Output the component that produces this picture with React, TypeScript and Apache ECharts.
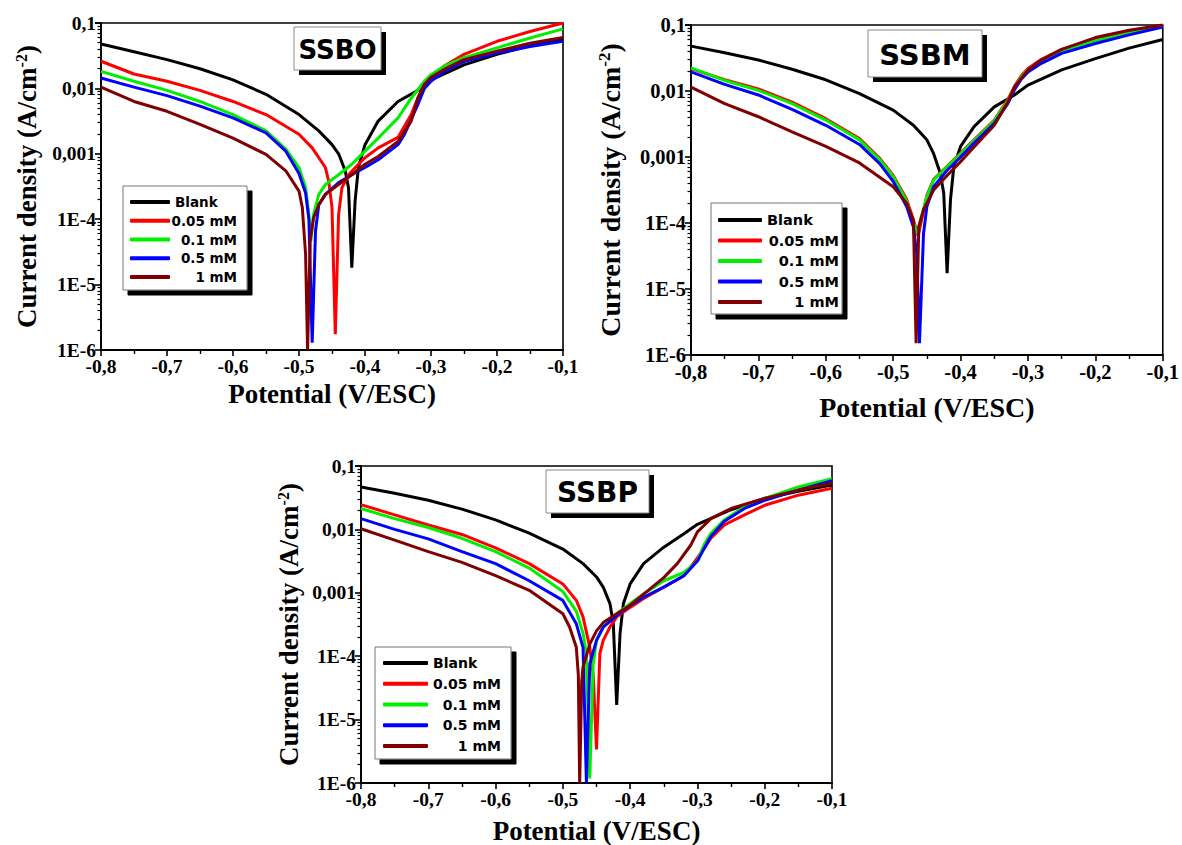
import React, { useEffect, useRef } from "react";
import * as echarts from "echarts";

type Pt = [number, number]; // [potential (V/ESC), log10 of current density (A/cm^-2)]

const seriesNames = ["Blank", "0.05 mM", "0.1 mM", "0.5 mM", "1 mM"];
const seriesColors = ["#000000", "#ff0000", "#00ee00", "#0000ff", "#800000"];
const panelTitles = ["SSBO", "SSBM", "SSBP"];

const xMin = -0.8;
const xMax = -0.1;
const xStep = 0.1;
const yMin = 1e-6;
const yMax = 0.1;
const yTickExponents = [-6, -5, -4, -3, -2, -1];
const yTickLabels = ["1E-6", "1E-5", "1E-4", "0,001", "0,01", "0,1"];

// ---------- SSBO ----------
const ssboBlank: Pt[] = [[-0.8,-1.32],[-0.75,-1.44],[-0.7,-1.56],[-0.65,-1.7],[-0.6,-1.87],[-0.55,-2.09],[-0.5,-2.4],[-0.47,-2.65],[-0.45,-2.86],[-0.44,-3.0],[-0.43,-3.26],[-0.425,-3.52],[-0.42,-4.74],[-0.415,-3.72],[-0.41,-3.21],[-0.4,-2.86],[-0.38,-2.5],[-0.35,-2.2],[-0.32,-2.03],[-0.3,-1.87],[-0.25,-1.64],[-0.2,-1.48],[-0.15,-1.35],[-0.1,-1.25]];
const ssbo005: Pt[] = [[-0.8,-1.585],[-0.75,-1.78],[-0.7,-1.89],[-0.65,-2.03],[-0.6,-2.2],[-0.55,-2.4],[-0.5,-2.7],[-0.48,-2.91],[-0.46,-3.21],[-0.455,-3.42],[-0.45,-3.82],[-0.445,-5.76],[-0.44,-3.93],[-0.435,-3.52],[-0.425,-3.32],[-0.41,-3.16],[-0.4,-3.06],[-0.38,-2.91],[-0.35,-2.75],[-0.33,-2.4],[-0.32,-2.15],[-0.31,-1.94],[-0.3,-1.81],[-0.28,-1.66],[-0.25,-1.48],[-0.2,-1.28],[-0.15,-1.13],[-0.1,-1.0]];
const ssbo01: Pt[] = [[-0.8,-1.74],[-0.75,-1.89],[-0.7,-2.03],[-0.65,-2.2],[-0.6,-2.4],[-0.55,-2.65],[-0.52,-2.93],[-0.5,-3.21],[-0.49,-3.52],[-0.485,-3.93],[-0.482,-4.33],[-0.478,-3.93],[-0.47,-3.62],[-0.46,-3.47],[-0.44,-3.32],[-0.42,-3.16],[-0.4,-2.96],[-0.38,-2.76],[-0.35,-2.45],[-0.33,-2.15],[-0.31,-1.89],[-0.3,-1.79],[-0.28,-1.66],[-0.25,-1.53],[-0.2,-1.38],[-0.15,-1.23],[-0.1,-1.09]];
const ssbo05: Pt[] = [[-0.8,-1.84],[-0.75,-1.98],[-0.7,-2.11],[-0.65,-2.27],[-0.6,-2.45],[-0.55,-2.68],[-0.52,-2.96],[-0.5,-3.3],[-0.49,-3.6],[-0.485,-4.0],[-0.48,-5.89],[-0.475,-4.18],[-0.47,-3.78],[-0.46,-3.62],[-0.44,-3.44],[-0.42,-3.32],[-0.4,-3.21],[-0.38,-3.09],[-0.35,-2.86],[-0.34,-2.7],[-0.32,-2.25],[-0.31,-2.0],[-0.3,-1.89],[-0.28,-1.74],[-0.25,-1.59],[-0.2,-1.46],[-0.15,-1.36],[-0.1,-1.28]];
const ssbo1: Pt[] = [[-0.8,-1.98],[-0.75,-2.2],[-0.7,-2.35],[-0.65,-2.55],[-0.6,-2.76],[-0.55,-3.01],[-0.52,-3.26],[-0.5,-3.57],[-0.495,-3.82],[-0.49,-4.54],[-0.487,-6.0],[-0.483,-4.33],[-0.478,-3.98],[-0.47,-3.78],[-0.46,-3.62],[-0.44,-3.47],[-0.42,-3.32],[-0.4,-3.16],[-0.38,-3.04],[-0.35,-2.81],[-0.33,-2.5],[-0.32,-2.15],[-0.31,-1.94],[-0.3,-1.83],[-0.28,-1.71],[-0.25,-1.56],[-0.2,-1.43],[-0.15,-1.31],[-0.1,-1.22]];

// ---------- SSBM ----------
const ssbmBlank: Pt[] = [[-0.8,-1.32],[-0.75,-1.42],[-0.7,-1.53],[-0.65,-1.67],[-0.6,-1.83],[-0.55,-2.04],[-0.5,-2.29],[-0.47,-2.52],[-0.45,-2.74],[-0.44,-2.95],[-0.43,-3.25],[-0.425,-3.55],[-0.42,-4.76],[-0.415,-3.65],[-0.41,-3.14],[-0.4,-2.84],[-0.38,-2.54],[-0.35,-2.24],[-0.32,-2.06],[-0.3,-1.91],[-0.25,-1.68],[-0.2,-1.51],[-0.15,-1.35],[-0.1,-1.22]];
const ssbm005: Pt[] = [[-0.8,-1.66],[-0.75,-1.83],[-0.7,-1.97],[-0.65,-2.17],[-0.6,-2.42],[-0.55,-2.72],[-0.52,-3.02],[-0.5,-3.28],[-0.48,-3.64],[-0.47,-3.95],[-0.463,-4.2],[-0.458,-3.96],[-0.45,-3.58],[-0.44,-3.34],[-0.42,-3.14],[-0.4,-2.94],[-0.38,-2.74],[-0.35,-2.44],[-0.33,-2.13],[-0.32,-1.93],[-0.31,-1.77],[-0.3,-1.66],[-0.28,-1.52],[-0.25,-1.37],[-0.2,-1.22],[-0.15,-1.11],[-0.1,-1.0]];
const ssbm01: Pt[] = [[-0.8,-1.65],[-0.75,-1.84],[-0.7,-1.99],[-0.65,-2.19],[-0.6,-2.44],[-0.55,-2.74],[-0.52,-3.04],[-0.5,-3.3],[-0.48,-3.67],[-0.47,-3.98],[-0.465,-4.16],[-0.46,-3.97],[-0.45,-3.6],[-0.44,-3.35],[-0.42,-3.15],[-0.4,-2.95],[-0.38,-2.75],[-0.35,-2.45],[-0.33,-2.15],[-0.32,-1.95],[-0.31,-1.79],[-0.3,-1.68],[-0.28,-1.54],[-0.25,-1.39],[-0.2,-1.24],[-0.15,-1.13],[-0.1,-1.02]];
const ssbm05: Pt[] = [[-0.8,-1.71],[-0.75,-1.9],[-0.7,-2.06],[-0.65,-2.28],[-0.6,-2.52],[-0.55,-2.81],[-0.52,-3.1],[-0.5,-3.37],[-0.48,-3.75],[-0.47,-4.06],[-0.465,-4.46],[-0.461,-5.82],[-0.455,-4.16],[-0.45,-3.75],[-0.44,-3.45],[-0.42,-3.2],[-0.4,-3.0],[-0.38,-2.79],[-0.35,-2.49],[-0.33,-2.19],[-0.32,-1.98],[-0.31,-1.82],[-0.3,-1.71],[-0.28,-1.58],[-0.25,-1.43],[-0.2,-1.28],[-0.15,-1.15],[-0.1,-1.03]];
const ssbm1: Pt[] = [[-0.8,-1.94],[-0.75,-2.19],[-0.7,-2.39],[-0.65,-2.62],[-0.6,-2.84],[-0.55,-3.09],[-0.5,-3.45],[-0.48,-3.7],[-0.47,-3.96],[-0.466,-5.82],[-0.462,-4.06],[-0.455,-3.8],[-0.44,-3.5],[-0.42,-3.28],[-0.4,-3.07],[-0.38,-2.85],[-0.35,-2.52],[-0.33,-2.17],[-0.32,-1.94],[-0.3,-1.68],[-0.28,-1.53],[-0.25,-1.37],[-0.2,-1.19],[-0.15,-1.08],[-0.1,-1.0]];

// ---------- SSBP ----------
const ssbpBlank: Pt[] = [[-0.8,-1.33],[-0.75,-1.43],[-0.7,-1.54],[-0.65,-1.68],[-0.6,-1.85],[-0.55,-2.06],[-0.5,-2.31],[-0.47,-2.54],[-0.45,-2.75],[-0.44,-2.91],[-0.43,-3.17],[-0.425,-3.49],[-0.42,-4.77],[-0.415,-3.64],[-0.41,-3.17],[-0.4,-2.86],[-0.38,-2.54],[-0.35,-2.28],[-0.32,-2.07],[-0.3,-1.92],[-0.25,-1.69],[-0.2,-1.51],[-0.15,-1.4],[-0.1,-1.3]];
const ssbp005: Pt[] = [[-0.8,-1.61],[-0.75,-1.77],[-0.7,-1.93],[-0.65,-2.08],[-0.6,-2.29],[-0.55,-2.54],[-0.5,-2.86],[-0.48,-3.12],[-0.47,-3.38],[-0.46,-3.86],[-0.455,-4.29],[-0.45,-5.47],[-0.445,-3.96],[-0.44,-3.75],[-0.43,-3.54],[-0.42,-3.38],[-0.4,-3.23],[-0.38,-3.09],[-0.35,-2.91],[-0.32,-2.73],[-0.3,-2.45],[-0.29,-2.3],[-0.28,-2.14],[-0.26,-1.93],[-0.23,-1.77],[-0.2,-1.62],[-0.15,-1.46],[-0.1,-1.35]];
const ssbp01: Pt[] = [[-0.8,-1.67],[-0.75,-1.83],[-0.7,-1.97],[-0.65,-2.14],[-0.6,-2.35],[-0.55,-2.61],[-0.5,-2.98],[-0.48,-3.29],[-0.47,-3.64],[-0.465,-3.96],[-0.46,-5.93],[-0.455,-4.13],[-0.45,-3.75],[-0.44,-3.54],[-0.42,-3.33],[-0.4,-3.17],[-0.38,-3.02],[-0.35,-2.81],[-0.32,-2.68],[-0.3,-2.5],[-0.29,-2.24],[-0.28,-2.06],[-0.26,-1.85],[-0.23,-1.64],[-0.2,-1.51],[-0.15,-1.33],[-0.1,-1.2]];
const ssbp05: Pt[] = [[-0.8,-1.83],[-0.75,-2.0],[-0.7,-2.15],[-0.65,-2.35],[-0.6,-2.54],[-0.55,-2.81],[-0.5,-3.12],[-0.48,-3.49],[-0.47,-3.86],[-0.465,-5.99],[-0.46,-4.12],[-0.45,-3.75],[-0.44,-3.54],[-0.42,-3.36],[-0.4,-3.2],[-0.38,-3.07],[-0.35,-2.91],[-0.32,-2.73],[-0.3,-2.5],[-0.29,-2.3],[-0.28,-2.11],[-0.26,-1.87],[-0.23,-1.67],[-0.2,-1.54],[-0.15,-1.38],[-0.1,-1.23]];
const ssbp1: Pt[] = [[-0.8,-1.99],[-0.75,-2.17],[-0.7,-2.35],[-0.65,-2.52],[-0.6,-2.73],[-0.55,-2.96],[-0.5,-3.33],[-0.49,-3.54],[-0.48,-3.86],[-0.477,-4.3],[-0.475,-6.0],[-0.472,-4.4],[-0.47,-4.17],[-0.46,-3.81],[-0.45,-3.6],[-0.44,-3.47],[-0.42,-3.33],[-0.4,-3.2],[-0.38,-3.02],[-0.35,-2.76],[-0.33,-2.54],[-0.31,-2.25],[-0.3,-2.04],[-0.28,-1.83],[-0.25,-1.67],[-0.2,-1.51],[-0.15,-1.38],[-0.1,-1.27]];

const panelData: Pt[][][] = [
  [ssboBlank, ssbo005, ssbo01, ssbo05, ssbo1],
  [ssbmBlank, ssbm005, ssbm01, ssbm05, ssbm1],
  [ssbpBlank, ssbp005, ssbp01, ssbp05, ssbp1],
];

// layout (pixels)
const layouts = [
  { grid: { left: 101, top: 23, width: 462, height: 327 }, legend: { left: 123, top: 186, font: 13.5, iw: 40, tw: 62, lh: 17, gap: 1.75, pad: [7.5, 10, 4.5, 7] },
    title: { x: 294, y: 27, w: 87, h: 43, font: 26 }, yGap: 60, xGap: 30, tick: 19.5, name: 27 },
  { grid: { left: 691, top: 25, width: 474, height: 330 }, legend: { left: 711, top: 203, font: 14.5, iw: 44, tw: 72, lh: 18, gap: 2.5, pad: [8, 3, 3, 7] },
    title: { x: 868, y: 30, w: 114, h: 47, font: 29 }, yGap: 66, xGap: 38, tick: 20.5, name: 28 },
  { grid: { left: 361, top: 466, width: 471, height: 320 }, legend: { left: 375, top: 647, font: 14, iw: 45, tw: 68, lh: 18, gap: 2.75, pad: [7, 10, 4, 8] },
    title: { x: 546, y: 470, w: 103, h: 43, font: 28 }, yGap: 58, xGap: 34, tick: 19.5, name: 27 },
];

const serif = "'Liberation Serif', 'Times New Roman', serif";
const sans = "'DejaVu Sans', Verdana, sans-serif";

function buildOption() {
  const grids: any[] = [];
  const xAxes: any[] = [];
  const yAxes: any[] = [];
  const series: any[] = [];
  const legends: any[] = [];
  const graphics: any[] = [];

  layouts.forEach((L, p) => {
    grids.push({ ...L.grid, show: true, borderColor: "#000", borderWidth: 1.6, backgroundColor: "transparent" });
    xAxes.push({
      type: "value", gridIndex: p, min: xMin, max: xMax, interval: xStep,
      axisLine: { lineStyle: { color: "#000", width: 1.8 } },
      axisTick: { length: 6, lineStyle: { color: "#000", width: 1.6 } },
      minorTick: { show: true, splitNumber: 2, length: 4, lineStyle: { color: "#000", width: 1.4 } },
      splitLine: { show: false },
      axisLabel: { fontFamily: serif, fontWeight: "bold", fontSize: L.tick, color: "#000", margin: 6,
        formatter: (v: number) => v.toFixed(1).replace(".", ",") },
      name: "Potential (V/ESC)", nameLocation: "middle", nameGap: L.xGap,
      nameTextStyle: { fontFamily: serif, fontWeight: "bold", fontSize: L.name, color: "#000" },
    });
    yAxes.push({
      type: "log", logBase: 10, gridIndex: p, position: "left", min: yMin, max: yMax,
      axisLine: { show: true, lineStyle: { color: "#000", width: 1.8 } },
      axisTick: { length: 6, lineStyle: { color: "#000", width: 1.6 } },
      minorTick: { show: true, splitNumber: 9, length: 3.5, lineStyle: { color: "#000", width: 1.2 } },
      splitLine: { show: false },
      axisLabel: { fontFamily: serif, fontWeight: "bold", fontSize: L.tick, color: "#000", margin: 5,
        formatter: (v: number) => {
          const i = yTickExponents.indexOf(Math.round(Math.log10(v)));
          return i >= 0 ? yTickLabels[i] : "";
        } },
      name: "Current density (A/cm{sup|-2})", nameLocation: "middle", nameGap: L.yGap,
      nameTextStyle: { fontFamily: serif, fontWeight: "bold", fontSize: L.name, color: "#000",
        rich: { sup: { fontFamily: serif, fontWeight: "bold", fontSize: Math.round(L.name * 0.6), color: "#000", verticalAlign: "top", padding: [0, 0, 12, 0] } } },
    });
    panelData[p].forEach((pts, s) => {
      series.push({
        type: "line", name: seriesNames[s], xAxisIndex: p, yAxisIndex: p,
        data: pts.map(([e, l]) => [e, Math.pow(10, l)]),
        showSymbol: false, symbol: "none", clip: true, color: seriesColors[s],
        lineStyle: { width: 3, color: seriesColors[s] }, z: 2 + s,
      });
    });
    const lg = L.legend;
    const textBase = { fontFamily: sans, fontWeight: "bold", fontSize: lg.font, color: "#000", lineHeight: lg.lh, width: lg.tw };
    legends.push({
      orient: "vertical", left: lg.left, top: lg.top, data: seriesNames, selectedMode: false,
      icon: "roundRect", itemWidth: lg.iw, itemHeight: 4, itemGap: lg.gap, padding: lg.pad,
      backgroundColor: "#fff", borderColor: "#777", borderWidth: 1,
      shadowColor: "#000", shadowOffsetX: 5, shadowOffsetY: 5, shadowBlur: 0,
      formatter: (n: string) => (n === "Blank" ? `{l|${n}}` : `{r|${n}}`),
      textStyle: { ...textBase, rich: { l: { ...textBase, align: "left" }, r: { ...textBase, align: "right" } } },
    });
    const t = L.title;
    graphics.push(
      { type: "rect", z: 10, shape: { x: t.x + 5, y: t.y + 5, width: t.w, height: t.h }, style: { fill: "#000" } },
      { type: "rect", z: 11, shape: { x: t.x, y: t.y, width: t.w, height: t.h }, style: { fill: "#fff", stroke: "#888", lineWidth: 1 } },
      { type: "text", z: 12, x: t.x + t.w / 2, y: t.y + t.h / 2 + 1,
        style: { text: panelTitles[p], fontFamily: sans, fontWeight: "bold", fontSize: t.font, fill: "#000", align: "center", verticalAlign: "middle" } },
    );
  });

  return {
    animation: false,
    backgroundColor: "#fff",
    grid: grids, xAxis: xAxes, yAxis: yAxes, series, legend: legends, graphic: graphics,
  };
}

export default function App() {
  const ref = useRef<HTMLDivElement>(null);
  useEffect(() => {
    document.body.style.margin = "0";
    if (!ref.current) return;
    const chart = echarts.init(ref.current, null, { renderer: "svg" });
    chart.setOption(buildOption() as any);
    return () => chart.dispose();
  }, []);
  return <div ref={ref} style={{ width: 1182, height: 845 }} />;
}
